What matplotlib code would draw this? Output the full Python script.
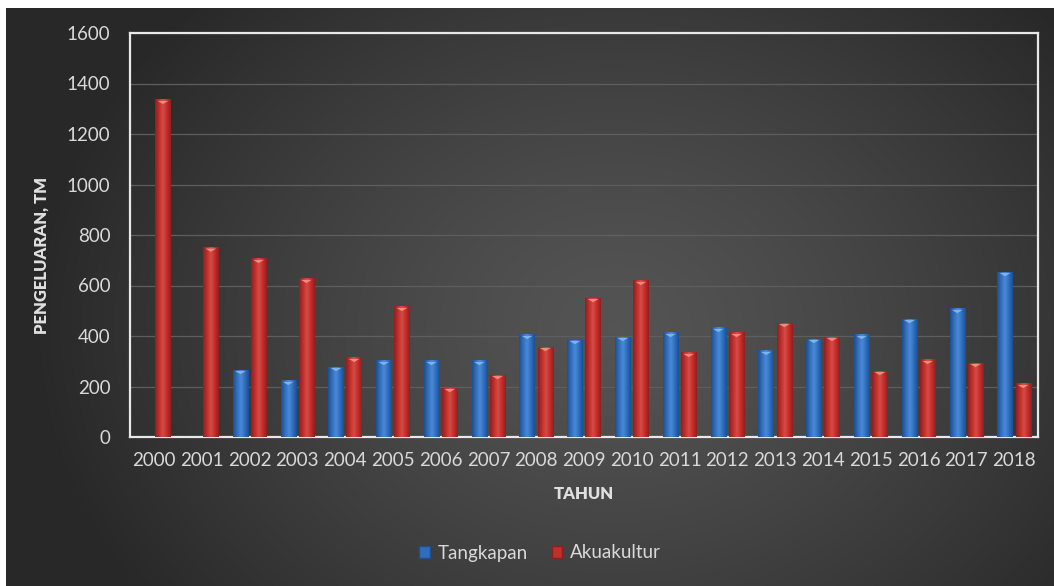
import numpy as np
import matplotlib
matplotlib.use("Agg")
import matplotlib.pyplot as plt
from matplotlib.patches import Patch
from matplotlib.path import Path

years = [str(y) for y in range(2000, 2019)]
tangkapan = [0, 0, 265, 222, 277, 301, 301, 301, 404, 384, 396, 412, 432, 341, 388, 404, 467, 507, 653]
akuakultur = [1335, 750, 705, 626, 313, 515, 194, 245, 356, 550, 618, 333, 412, 451, 396, 261, 305, 293, 210]
yticks = [0, 200, 400, 600, 800, 1000, 1200, 1400, 1600]

plt.rcParams['font.family'] = ['Lato', 'DejaVu Sans']

W, H = 1054, 586
fig = plt.figure(figsize=(W / 100, H / 100), dpi=100)
fig.patch.set_facecolor('white')

# background radial gradient (dark chart area, white strip top/left)
bg = fig.add_axes([6 / W, 0, 1 - 6 / W, 1 - 8 / H])
bg.set_axis_off()
ny, nx = 300, 540
yy, xx = np.mgrid[0:ny, 0:nx]
cx, cy = nx * 0.58, ny * 0.55
r = np.sqrt(((xx - cx) / (nx * 0.55)) ** 2 + ((yy - cy) / (ny * 0.8)) ** 2)
r = np.clip(r, 0, 1)
v = 0.33 - 0.17 * r ** 1.3
img = np.dstack([v, v, v])
bg.imshow(img, aspect='auto', extent=(0, 1, 0, 1), interpolation='bilinear')
bg.set_xlim(0, 1)
bg.set_ylim(0, 1)

ax = fig.add_axes([130 / W, 1 - 437 / H, (1038 - 130) / W, (437 - 33) / H])
ax.set_facecolor('none')
x = np.arange(len(years))
bw = 0.32
off = 0.19

tri_marker = Path([(-1, 0.3), (1, 0.3), (0, -0.3), (-1, 0.3)],
                  [Path.MOVETO, Path.LINETO, Path.LINETO, Path.CLOSEPOLY])

def grad_bars(xs, vals, dark, mid, light, tri):
    cmap = matplotlib.colors.LinearSegmentedColormap.from_list('g', [dark, mid, light, mid, dark])
    g = np.linspace(0, 1, 64).reshape(1, -1)
    for xi, vi in zip(xs, vals):
        if vi <= 0:
            continue
        ax.imshow(g, cmap=cmap, aspect='auto', extent=(xi - bw / 2, xi + bw / 2, 0, vi),
                  interpolation='bilinear', zorder=3)
    xv = [xi for xi, vi in zip(xs, vals) if vi > 0]
    vv = [vi - 10 for vi in vals if vi > 0]
    ax.scatter(xv, vv, marker=tri_marker, s=60, color=tri, edgecolors='none', zorder=4)

grad_bars(x - off, tangkapan, '#1f4f8f', '#2f6ebd', '#4a8ad6', '#7fb3ee')
grad_bars(x + off, akuakultur, '#8f1f1f', '#bf2f2c', '#d84a44', '#f08a80')

ax.set_xlim(-0.5, len(years) - 0.5)
ax.set_ylim(0, 1600)
ax.set_yticks(yticks)
ax.set_yticklabels([str(t) for t in yticks])
ax.set_xticks(x)
ax.set_xticklabels(years)
ax.tick_params(axis='both', colors='#d9d9d9', labelsize=13.5, length=0)
ax.tick_params(axis='x', pad=11)
ax.tick_params(axis='y', pad=14)
ax.grid(axis='y', color='#5e5e5e', lw=0.9, zorder=0)
ax.set_axisbelow(True)
for s in ax.spines.values():
    s.set_color('#e8e8e8')
    s.set_linewidth(1.6)

ax.set_xlabel('TAHUN', color='#e0e0e0', fontsize=12, fontweight='heavy', labelpad=12)
ax.set_ylabel('PENGELUARAN, TM', color='#e0e0e0', fontsize=12, fontweight='heavy', labelpad=6)
ax.yaxis.set_label_coords(-0.088, 0.45)

handles = [Patch(facecolor='#2f6ebd', edgecolor='#1f4f8f', label='Tangkapan'),
           Patch(facecolor='#bf2f2c', edgecolor='#8f1f1f', label='Akuakultur')]
fig.legend(handles=handles, loc='center', bbox_to_anchor=(540 / W, 1 - 553 / H), ncol=2,
           frameon=False, fontsize=13.5, labelcolor='#d9d9d9', handlelength=0.55, handleheight=0.55,
           handletextpad=0.4, columnspacing=1.3)

fig.savefig('out.png', dpi=100)
